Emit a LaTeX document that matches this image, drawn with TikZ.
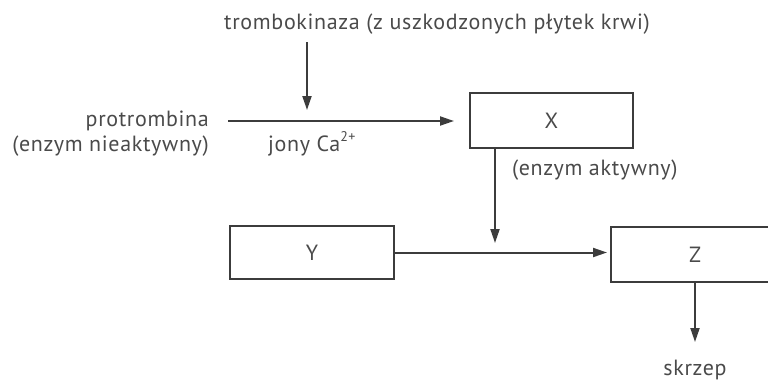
\documentclass[tikz,border=0pt]{standalone}
\usepackage{fontspec}
\setmainfont[LetterSpace=3]{PT Sans}
\usetikzlibrary{arrows.meta}
\definecolor{ink}{HTML}{3C3C3C}
\definecolor{txt}{HTML}{4A4A4A}
\newcommand{\ionsup}[1]{\raisebox{0.42em}{\fontsize{14}{14}\selectfont #1}}
\begin{document}
\begin{tikzpicture}[x=1pt,y=-1pt,
  every node/.style={text=txt,font=\fontsize{22}{26}\selectfont,inner sep=0pt},
  box/.style={draw=ink,line width=2pt,minimum height=55pt},
  conn/.style={draw=ink,line width=2pt,-{Triangle[length=14pt,width=9pt]}}]
  \useasboundingbox (0,0) rectangle (768,381);

  % substrates and cofactors of the first step
  \node[anchor=base] (trombo) at (437,29) {trombokinaza (z uszkodzonych płytek krwi)};
  \node[anchor=base east] (prot) at (209,126) {protrombina};
  \node[anchor=base east] (nieakt) at (209,151) {(enzym nieaktywny)};
  \node[anchor=base west] (jony) at (268,151) {jony Ca\ionsup{2+}};

  % enzyme boxes
  \node[box,minimum width=163pt] (X) at (551.5,120.5) {X};
  \node[anchor=base west] (akt) at (512,175) {(enzym aktywny)};
  \node[box,minimum width=164pt,minimum height=53pt] (Y) at (312,252.5) {Y};
  \node[box,minimum width=168pt] (Z) at (695,254.5) {Z};
  \node[anchor=base] (skrzep) at (695,375) {skrzep};

  % free ends of the connectors
  \coordinate (tA) at (307,42);
  \coordinate (tB) at (307,110);
  \coordinate (pA) at (228,121);
  \coordinate (xA) at (495,148);
  \coordinate (xB) at (495,243);
  \coordinate (zB) at (695,342);

  \draw[conn] (tA) -- (tB);
  \draw[conn,shorten >=15pt] (pA) -- (X.west |- pA);
  \draw[conn] (xA) -- (xB);
  \draw[conn,shorten >=3pt] (Y.east) -- (Z.west |- Y.east);
  \draw[conn] (Z.south) -- (zB);
\end{tikzpicture}
\end{document}
